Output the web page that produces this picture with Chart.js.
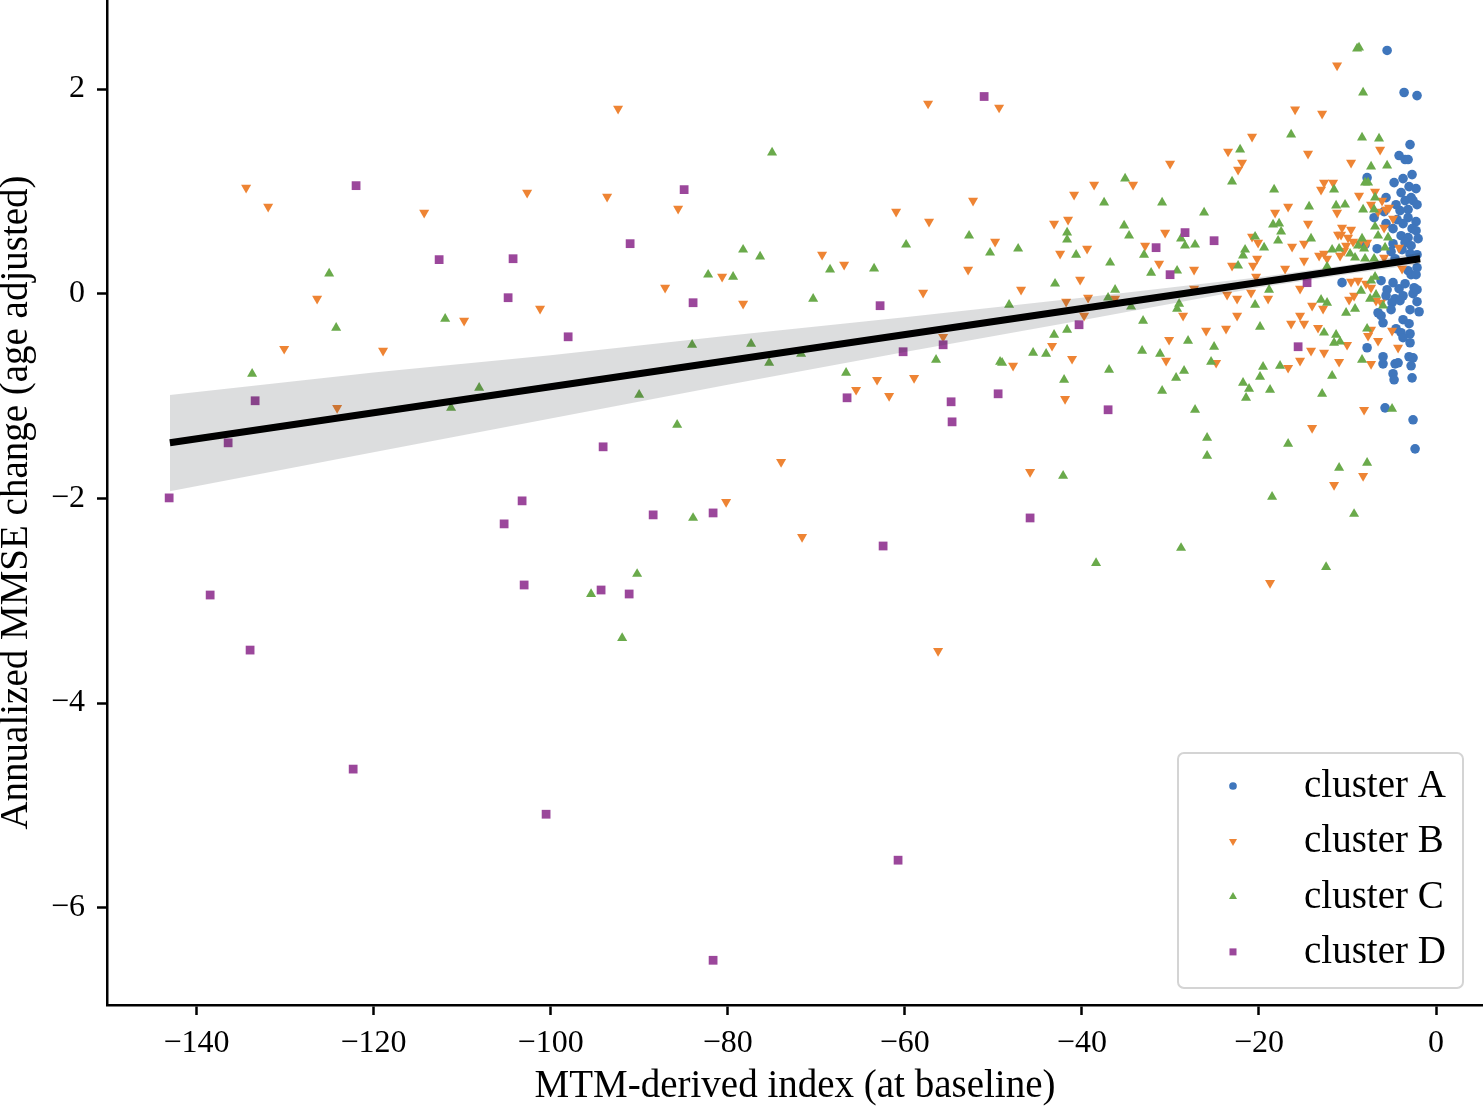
<!DOCTYPE html>
<html>
<head>
<meta charset="utf-8">
<script src="https://cdn.jsdelivr.net/npm/chart.js@4.4.1/dist/chart.umd.min.js"></script>
<style>
  html, body { margin: 0; padding: 0; background: #fff; }
  #wrap { width: 1483px; height: 1106px; }
</style>
</head>
<body>
<div id="wrap"><canvas id="chart"></canvas></div>
<script>
/* MMSE change vs MTM index — scatter by cluster + linear fit with CI band */
const clusterNames = ['cluster A', 'cluster B', 'cluster C', 'cluster D'];
const xTicks = [-140, -120, -100, -80, -60, -40, -20, 0];
const yTicks = [-6, -4, -2, 0, 2];

const clusterAX = [-5.53, -3.61, -2.15, -2.94, -4.18, -3.50, -3.16, -2.71, -7.79, -4.74, -3.73, -3.05, -2.26, -3.95, -5.65, -2.82, -3.50, -2.60, -4.52, -3.16,
  -2.15, -5.87, -4.07, -7.00, -4.40, -3.16, -2.26, -5.65, -3.73, -2.71, -4.86, -3.95, -3.16, -2.26, -2.03, -3.50, -2.82, -4.86, -8.02, -6.66,
  -5.08, -3.84, -2.94, -2.15, -4.63, -2.15, -3.16, -10.62, -6.21, -4.86, -5.53, -4.18, -3.50, -2.82, -2.26, -2.48, -5.65, -4.63, -3.73, -2.60,
  -2.15, -4.97, -4.07, -2.15, -2.94, -1.92, -5.08, -6.21, -6.55, -5.99, -3.73, -3.05, -4.52, -3.95, -2.94, -2.94, -3.73, -7.79, -5.99, -5.99,
  -4.63, -4.29, -3.05, -2.60, -2.82, -4.86, -2.71, -4.74, -5.76, -2.60, -2.37];
const clusterAY = [2.377, 1.966, 1.936, 1.457, 1.350, 1.311, 1.311, 1.164, 1.134, 1.086, 1.125, 1.046, 1.027, 0.988, 0.939, 0.939, 0.910, 0.910, 0.870, 0.822,
  0.870, 0.802, 0.812, 0.743, 0.724, 0.743, 0.704, 0.685, 0.685, 0.636, 0.636, 0.567, 0.548, 0.616, 0.538, 0.499, 0.469, 0.489, 0.479, 0.440,
  0.411, 0.430, 0.391, 0.381, 0.342, 0.254, 0.225, 0.108, 0.127, 0.108, 0.039, 0.049, 0.098, 0.186, 0.186, 0.059, -0.020, -0.049, -0.020, 0.000,
  0.039, -0.088, -0.068, -0.078, -0.156, -0.176, -0.156, -0.215, -0.186, -0.284, -0.254, -0.293, -0.342, -0.381, -0.391, -0.479, -0.430, -0.528, -0.616, -0.685,
  -0.685, -0.675, -0.616, -0.626, -0.704, -0.782, -0.822, -0.841, -1.115, -1.232, -1.516];

const clusterB = [
  [-134.39, 1.037], [-131.90, 0.851], [-114.28, 0.792], [-102.65, 0.988], [-126.37, -0.049], [-101.19, -0.147], [-109.77, -0.264], [-130.09, -0.538], [-118.92, -0.557], [-124.11, -1.115],
  [-92.38, 1.809], [-93.62, 0.949], [-85.60, 0.831], [-80.63, 0.166], [-87.07, 0.059], [-78.26, -0.098], [-73.97, -1.643], [-80.18, -2.034], [-57.37, 1.858], [-49.35, 1.819],
  [-60.98, 0.802], [-57.26, 0.704], [-52.29, 0.910], [-49.80, 0.509], [-69.34, 0.381], [-66.85, 0.284], [-52.85, 0.235], [-57.93, 0.010], [-55.67, -0.421], [-63.13, -0.841],
  [-58.95, -0.822], [-65.50, -0.939], [-61.77, -0.998], [-71.60, -2.377], [-56.24, -3.491],
  [-23.49, 1.389], [-22.36, 1.213], [-30.04, 1.271], [-34.22, 1.066], [-38.62, 1.066], [-40.88, 0.968], [-43.14, 0.685], [-41.56, 0.724], [-30.60, 0.597], [-42.46, 0.391],
  [-39.41, 0.440], [-32.86, 0.469], [-31.28, 0.293], [-27.33, 0.235], [-23.04, 0.274], [-40.20, 0.137], [-46.87, 0.039], [-36.25, -0.049], [-39.30, -0.039], [-41.78, -0.078],
  [-27.33, 0.049], [-23.60, -0.010], [-22.47, -0.049], [-39.75, -0.215], [-28.57, -0.215], [-22.47, -0.215], [-43.37, -0.509], [-30.15, -0.450], [-25.97, -0.362], [-23.72, -0.342],
  [-41.11, -0.636], [-30.49, -0.655], [-47.77, -0.704], [-24.84, -0.675], [-41.90, -1.027], [-45.85, -1.741],
  [-11.18, 2.230], [-15.92, 1.800], [-12.87, 1.760], [-20.78, 1.535], [-6.32, 1.408], [-14.46, 1.369], [-21.91, 1.281], [-9.60, 1.281], [-12.65, 1.086], [-11.63, 1.086],
  [-12.99, 1.017], [-8.70, 0.958], [-6.89, 0.998], [-6.10, 0.910], [-7.34, 0.870], [-16.71, 0.851], [-5.31, 0.841], [-6.55, 0.802], [-11.18, 0.792], [-18.18, 0.792],
  [-5.65, 0.822], [-4.86, 0.734], [-14.46, 0.685], [-5.87, 0.645], [-10.62, 0.645], [-9.60, 0.626], [-11.07, 0.577], [-10.73, 0.577], [-9.94, 0.548], [-9.37, 0.509],
  [-20.78, 0.557], [-20.10, 0.499], [-16.26, 0.460], [-14.91, 0.489], [-20.21, 0.342], [-20.67, 0.274], [-8.70, 0.489], [-7.79, 0.499], [-10.16, 0.469], [-10.39, 0.421],
  [-4.18, 0.450], [-13.21, 0.372], [-12.65, 0.391], [-12.31, 0.342], [-10.84, 0.372], [-5.87, 0.352], [-14.91, 0.323], [-17.05, 0.245], [-3.84, 0.245], [-20.33, 0.166],
  [-20.89, 0.010], [-18.97, -0.049], [-15.36, 0.049], [-14.00, -0.117], [-12.76, -0.147], [-9.82, -0.059], [-9.26, -0.020], [-9.60, 0.117], [-8.81, 0.127], [-7.91, 0.098],
  [-7.34, 0.059], [-6.78, -0.068], [-6.21, -0.088], [-7.34, -0.352], [-7.68, -0.411], [-6.55, -0.460], [-4.97, -0.362], [-4.29, -0.528], [-10.05, -0.499], [-13.33, -0.333],
  [-14.91, -0.293], [-15.36, -0.215], [-16.37, -0.293], [-14.12, -0.557], [-12.65, -0.577], [-15.36, -0.655], [-10.95, -0.665], [-7.34, -0.685], [-16.71, -0.724],
  [-8.13, -1.134], [-14.00, -1.311], [-8.24, -1.780], [-11.52, -1.868], [-18.75, -2.826]
];

const clusterC = [
  [-125.01, 0.196], [-111.91, -0.245], [-124.22, -0.333], [-133.71, -0.782], [-108.07, -0.919], [-111.24, -1.115],
  [-74.99, 1.379], [-78.26, 0.430], [-76.34, 0.362], [-82.21, 0.186], [-79.39, 0.166], [-84.02, -0.499], [-77.36, -0.489], [-75.32, -0.675], [-71.71, -0.587], [-90.00, -0.988],
  [-85.71, -1.281], [-83.91, -2.191], [-52.74, 0.567], [-59.85, 0.479], [-50.37, 0.401], [-68.44, 0.235], [-63.47, 0.245], [-70.35, -0.049], [-56.47, -0.645], [-66.63, -0.773],
  [-49.24, -0.665], [-90.23, -2.738], [-95.43, -2.934], [-91.92, -3.364],
  [-22.13, 1.408], [-23.04, 1.095], [-35.12, 1.125], [-37.49, 0.890], [-30.94, 0.890], [-26.20, 0.792], [-41.67, 0.597], [-41.67, 0.528], [-35.23, 0.665], [-34.67, 0.567],
  [-28.80, 0.538], [-28.35, 0.469], [-27.22, 0.479], [-47.20, 0.440], [-40.65, 0.381], [-32.98, 0.381], [-36.81, 0.303], [-29.25, 0.225], [-22.36, 0.274], [-32.18, 0.205],
  [-43.03, 0.098], [-36.25, 0.039], [-37.04, -0.039], [-48.22, -0.108], [-34.44, -0.127], [-29.02, -0.098], [-29.25, -0.147], [-33.09, -0.264], [-41.67, -0.352], [-43.14, -0.401],
  [-28.01, -0.460], [-25.07, -0.518], [-45.51, -0.577], [-44.04, -0.587], [-33.20, -0.557], [-31.17, -0.587], [-49.01, -0.675], [-25.41, -0.665], [-36.93, -0.743], [-28.46, -0.753],
  [-29.36, -0.822], [-42.01, -0.841], [-30.94, -0.949], [-27.22, -1.134], [-25.86, -1.408], [-25.86, -1.584], [-42.12, -1.780], [-28.80, -2.484], [-38.40, -2.631],
  [-8.92, 2.396], [-8.70, 2.406], [-8.24, 1.966], [-16.37, 1.555], [-8.36, 1.526], [-6.44, 1.516], [-7.34, 1.242], [-5.53, 1.252], [-8.02, 1.086], [-7.68, 1.086],
  [-11.52, 1.017], [-18.29, 1.017], [-6.89, 0.939], [-11.29, 0.861], [-10.28, 0.870], [-14.34, 0.851], [-8.24, 0.822], [-7.00, 0.822], [-18.41, 0.675], [-17.73, 0.685],
  [-17.50, 0.606], [-6.89, 0.655], [-20.44, 0.557], [-17.84, 0.518], [-14.12, 0.538], [-19.42, 0.450], [-21.57, 0.430], [-21.80, 0.372], [-5.42, 0.548], [-6.55, 0.567],
  [-8.36, 0.538], [-11.74, 0.430], [-10.95, 0.440], [-8.81, 0.469], [-8.13, 0.440], [-5.76, 0.450], [-9.71, 0.391], [-9.15, 0.352], [-8.02, 0.342], [-12.31, 0.264],
  [-7.00, 0.342], [-18.86, 0.039], [-20.44, -0.108], [-19.88, -0.323], [-12.99, -0.059], [-12.31, -0.088], [-10.16, -0.186], [-9.15, -0.147], [-8.47, 0.029], [-7.34, 0.127],
  [-6.89, 0.166], [-6.78, -0.010], [-7.45, -0.049], [-5.99, -0.117], [-7.79, -0.342], [-11.29, -0.401], [-11.52, -0.479], [-10.84, -0.469], [-12.65, -0.381], [-8.36, -0.645],
  [-19.54, -0.714], [-17.62, -0.704], [-19.88, -0.812], [-11.74, -0.802],
  [-21.80, -0.870], [-21.12, -0.929], [-18.75, -0.939], [-21.46, -1.017], [-12.87, -0.978], [-4.97, -1.125], [-16.71, -1.467], [-10.95, -1.702], [-7.79, -1.653], [-18.52, -1.985],
  [-9.26, -2.152], [-12.42, -2.670]
];

const clusterD = [
  [-121.97, 1.056], [-112.59, 0.333], [-104.24, 0.342], [-104.80, -0.039], [-133.37, -1.046], [-136.42, -1.457], [-143.08, -1.995], [-103.22, -2.024], [-105.25, -2.249], [-102.99, -2.846],
  [-138.45, -2.944], [-133.94, -3.482], [-122.30, -4.645], [-100.51, -5.086], [-84.92, 1.017], [-91.02, 0.489], [-83.91, -0.088], [-98.02, -0.421], [-94.07, -1.496], [-88.42, -2.161],
  [-81.65, -2.142], [-51.04, 1.927], [-62.79, -0.117], [-55.67, -0.499], [-60.19, -0.567], [-66.52, -1.017], [-54.77, -1.056], [-54.66, -1.252], [-49.46, -0.978], [-62.45, -2.465],
  [-94.30, -2.895], [-91.13, -2.934], [-60.76, -5.535], [-81.65, -6.513], [-28.35, 0.597], [-25.07, 0.518], [-31.62, 0.450], [-30.04, 0.186], [-40.32, -0.303], [-37.04, -1.134],
  [-45.85, -2.191], [-14.57, 0.108], [-15.58, -0.518]
];

// fitted line and its confidence band
const fitX = [-143.0, -1.8];
const fitY = [-1.457, 0.342];
const bandX = [-143, -120, -100, -80, -60, -40, -20, -10, -1.8];
const bandUpper = [-0.99, -0.77, -0.60, -0.41, -0.23, -0.04, 0.16, 0.28, 0.40];
const bandLower = [-1.93, -1.55, -1.22, -0.89, -0.57, -0.26, 0.06, 0.19, 0.29];

const COLORS = ['#3f76bc', '#ee8434', '#6aaa4b', '#9b479b'];
const SERIF = '"Liberation Serif", "Times New Roman", "DejaVu Serif", serif';
const MARKERS = [
  { pointStyle: 'circle',   radius: 4.8, rotation: 0 },
  { pointStyle: 'triangle', radius: 5.8, rotation: 180 },
  { pointStyle: 'triangle', radius: 5.8, rotation: 0 },
  { pointStyle: 'rect',     radius: 6.2, rotation: 0 },
];

const fmt = v => (v < 0 ? '\u2212' + Math.abs(v) : String(v));
const pts = arr => arr.map(([x, y]) => ({ x, y }));
const zip = (xs, ys) => xs.map((x, i) => ({ x, y: ys[i] }));

const clusterData = [zip(clusterAX, clusterAY), pts(clusterB), pts(clusterC), pts(clusterD)];

// matplotlib-style legend box in the lower right of the plot
const boxLegend = {
  id: 'boxLegend',
  afterDatasetsDraw(chart) {
    const { ctx, chartArea } = chart;
    const w = 285, h = 235;
    const x0 = chartArea.right - 20 - w;
    const y0 = chartArea.bottom - 17 - h;
    ctx.save();
    ctx.beginPath();
    ctx.roundRect(x0, y0, w, h, 6);
    ctx.fillStyle = 'rgba(255,255,255,0.8)';
    ctx.fill();
    ctx.lineWidth = 2;
    ctx.strokeStyle = '#d4d4d4';
    ctx.stroke();
    ctx.font = '39px ' + SERIF;
    ctx.textBaseline = 'alphabetic';
    ctx.textAlign = 'left';
    clusterNames.forEach((name, i) => {
      const cy = y0 + 33 + i * 55.3;
      const m = MARKERS[i];
      ctx.fillStyle = COLORS[i];
      Chart.helpers.drawPoint(ctx, { pointStyle: m.pointStyle, radius: m.radius * 0.8, rotation: m.rotation, borderWidth: 0 }, x0 + 55, cy);
      ctx.fillStyle = '#000';
      ctx.fillText(name, x0 + 126, cy + 11);
    });
    ctx.restore();
  }
};

const scatterSets = clusterNames.map((name, i) => ({
  type: 'scatter',
  label: name,
  data: clusterData[i],
  backgroundColor: COLORS[i],
  borderWidth: 0,
  pointStyle: MARKERS[i].pointStyle,
  pointRadius: MARKERS[i].radius,
  rotation: MARKERS[i].rotation,
  order: 5 - i,
}));

new Chart(document.getElementById('chart').getContext('2d'), {
  type: 'scatter',
  data: {
    datasets: [
      { type: 'line', label: 'fit', data: zip(fitX, fitY), borderColor: '#000', borderWidth: 7, borderCapStyle: 'butt', pointRadius: 0, fill: false, order: 0 },
      { type: 'line', label: 'ci-low', data: zip(bandX, bandLower), borderWidth: 0, pointRadius: 0, fill: false, order: 1 },
      { type: 'line', label: 'ci-high', data: zip(bandX, bandUpper), borderWidth: 0, pointRadius: 0, fill: '-1', backgroundColor: 'rgba(40,45,50,0.16)', order: 1 },
      ...scatterSets,
    ],
  },
  options: {
    responsive: true,
    maintainAspectRatio: false,
    animation: false,
    events: [],
    layout: { padding: 0, autoPadding: false },
    plugins: { legend: { display: false }, tooltip: { enabled: false } },
    scales: {
      x: {
        type: 'linear', min: -150.1, max: 5.3,
        afterBuildTicks: s => { s.ticks = xTicks.map(v => ({ value: v })); },
        afterFit: s => { s.height = 101; s.paddingLeft = 0; s.paddingRight = 0; },
        grid: { drawOnChartArea: false, drawTicks: true, tickLength: 10, tickWidth: 2.5, tickColor: '#000' },
        border: { display: true, color: '#000', width: 2.5 },
        ticks: { color: '#000', font: { family: SERIF, size: 32 }, padding: 9, maxRotation: 0, autoSkip: false, callback: v => fmt(v) },
        title: { display: true, text: 'MTM-derived index (at baseline)', color: '#000', font: { family: SERIF, size: 39, lineHeight: 1 }, padding: { top: 0, bottom: 0 } },
      },
      y: {
        type: 'linear', min: -6.95, max: 2.87,
        afterBuildTicks: s => { s.ticks = yTicks.map(v => ({ value: v })); },
        afterFit: s => { s.width = 107; s.paddingTop = 0; s.paddingBottom = 0; },
        grid: { drawOnChartArea: false, drawTicks: true, tickLength: 10, tickWidth: 2.5, tickColor: '#000' },
        border: { display: true, color: '#000', width: 2.5 },
        ticks: { color: '#000', font: { family: SERIF, size: 32 }, padding: 12, autoSkip: false, callback: v => fmt(v) },
        title: { display: true, text: 'Annualized MMSE change (age adjusted)', color: '#000', font: { family: SERIF, size: 39, lineHeight: 1 }, padding: { top: -2.5, bottom: 0 } },
      },
    },
  },
  plugins: [boxLegend],
});
</script>
</body>
</html>
